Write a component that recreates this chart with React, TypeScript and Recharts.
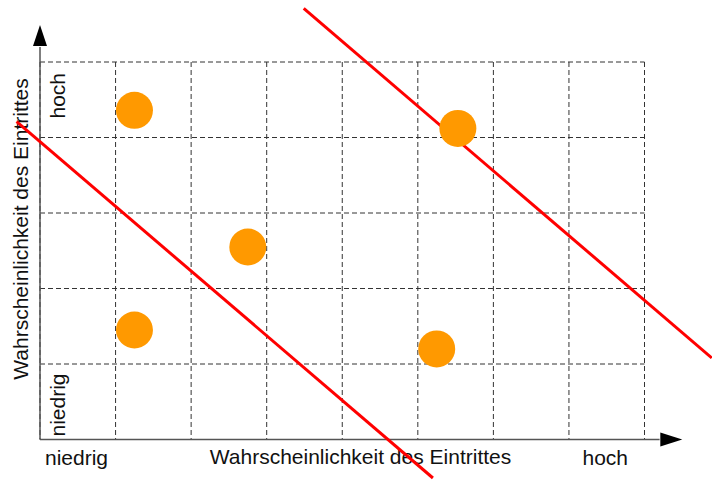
import React from "react";
import {
  ScatterChart,
  Scatter,
  XAxis,
  YAxis,
  CartesianGrid,
  ReferenceLine,
  ReferenceDot,
} from "recharts";

// Grid ticks (8 columns x 5 rows)
const xTicks = [0, 1, 2, 3, 4, 5, 6, 7, 8];
const yTicks = [0, 1, 2, 3, 4, 5];

// Axis end labels
const xTickLabels: Record<number, string> = { 0: "niedrig", 8: "hoch" };
const yTickLabels: Record<number, string> = { 0: "niedrig", 5: "hoch" };
const axisTitle = "Wahrscheinlichkeit des Eintrittes";

// Risk points
const points = [
  { x: 1.25, y: 4.36 },
  { x: 2.75, y: 2.55 },
  { x: 1.25, y: 1.45 },
  { x: 5.53, y: 4.12 },
  { x: 5.25, y: 1.2 },
];

// Red boundary lines (data coordinates)
const lowerBoundary = [
  { x: -0.31, y: 4.21 },
  { x: 5.2, y: -0.51 },
];
const upperBoundary = [
  { x: 3.49, y: 5.71 },
  { x: 8.89, y: 1.08 },
];

// Axis lines and arrow tips
const xAxisLine = [
  { x: 0, y: 0 },
  { x: 8.2, y: 0 },
];
const yAxisLine = [
  { x: 0, y: 0 },
  { x: 0, y: 5.2 },
];
const xArrowTip = { x: 8.5, y: 0 };
const yArrowTip = { x: 0, y: 5.49 };

const FONT = "'Liberation Sans', Arial, sans-serif";

const XTick = (props: any) => {
  const { x, payload } = props;
  const label = xTickLabels[payload.value];
  if (!label) return <g />;
  const isStart = payload.value === 0;
  return (
    <text
      x={isStart ? x + 5 : x - 16.5}
      y={465}
      textAnchor={isStart ? "start" : "end"}
      fontFamily={FONT}
      fontSize={21}
      fill="#111"
    >
      {label}
    </text>
  );
};

const YTick = (props: any) => {
  const { y, payload } = props;
  const label = yTickLabels[payload.value];
  if (!label) return <g />;
  const isStart = payload.value === 0;
  return (
    <text
      transform={`translate(65, ${isStart ? y - 3 : y + 11}) rotate(-90)`}
      textAnchor={isStart ? "start" : "end"}
      fontFamily={FONT}
      fontSize={21}
      fill="#111"
    >
      {label}
    </text>
  );
};

const Circle = (props: any) => (
  <circle cx={props.cx} cy={props.cy} r={18.5} fill="#FF9900" />
);

const RightArrow = (props: any) => (
  <polygon
    points={`${props.cx},${props.cy} ${props.cx - 22},${props.cy - 7} ${props.cx - 22},${props.cy + 7}`}
    fill="#000"
  />
);

const UpArrow = (props: any) => (
  <polygon
    points={`${props.cx},${props.cy} ${props.cx - 7},${props.cy + 21} ${props.cx + 7},${props.cy + 21}`}
    fill="#000"
  />
);

export default function App() {
  return (
    <div style={{ position: "absolute", left: 0, top: 0, background: "#fff" }}>
      <ScatterChart
        width={712}
        height={481}
        margin={{ top: 62, right: 67.5, bottom: 0, left: 0 }}
      >
        <CartesianGrid stroke="#333" strokeDasharray="5 3" strokeWidth={1} />
        <XAxis
          type="number"
          dataKey="x"
          domain={[0, 8]}
          ticks={xTicks}
          interval={0}
          allowDataOverflow
          axisLine={false}
          tickLine={false}
          height={41.5}
          tick={XTick}
        />
        <YAxis
          type="number"
          dataKey="y"
          domain={[0, 5]}
          ticks={yTicks}
          interval={0}
          allowDataOverflow
          axisLine={false}
          tickLine={false}
          width={40}
          tick={YTick}
        />
        <text
          x={360.5}
          y={463.5}
          textAnchor="middle"
          fontFamily={FONT}
          fontSize={21}
          fill="#111"
        >
          {axisTitle}
        </text>
        <text
          transform="translate(28, 229) rotate(-90)"
          textAnchor="middle"
          fontFamily={FONT}
          fontSize={21}
          fill="#111"
        >
          {axisTitle}
        </text>
        <ReferenceLine segment={xAxisLine} stroke="#555" strokeWidth={1.5} ifOverflow="visible" />
        <ReferenceLine segment={yAxisLine} stroke="#555" strokeWidth={1.5} ifOverflow="visible" />
        <ReferenceDot x={xArrowTip.x} y={xArrowTip.y} ifOverflow="visible" shape={RightArrow} />
        <ReferenceDot x={yArrowTip.x} y={yArrowTip.y} ifOverflow="visible" shape={UpArrow} />
        <Scatter data={points} shape={Circle} isAnimationActive={false} />
        <ReferenceLine segment={lowerBoundary} stroke="#FF0000" strokeWidth={3} ifOverflow="visible" />
        <ReferenceLine segment={upperBoundary} stroke="#FF0000" strokeWidth={3} ifOverflow="visible" />
      </ScatterChart>
    </div>
  );
}
